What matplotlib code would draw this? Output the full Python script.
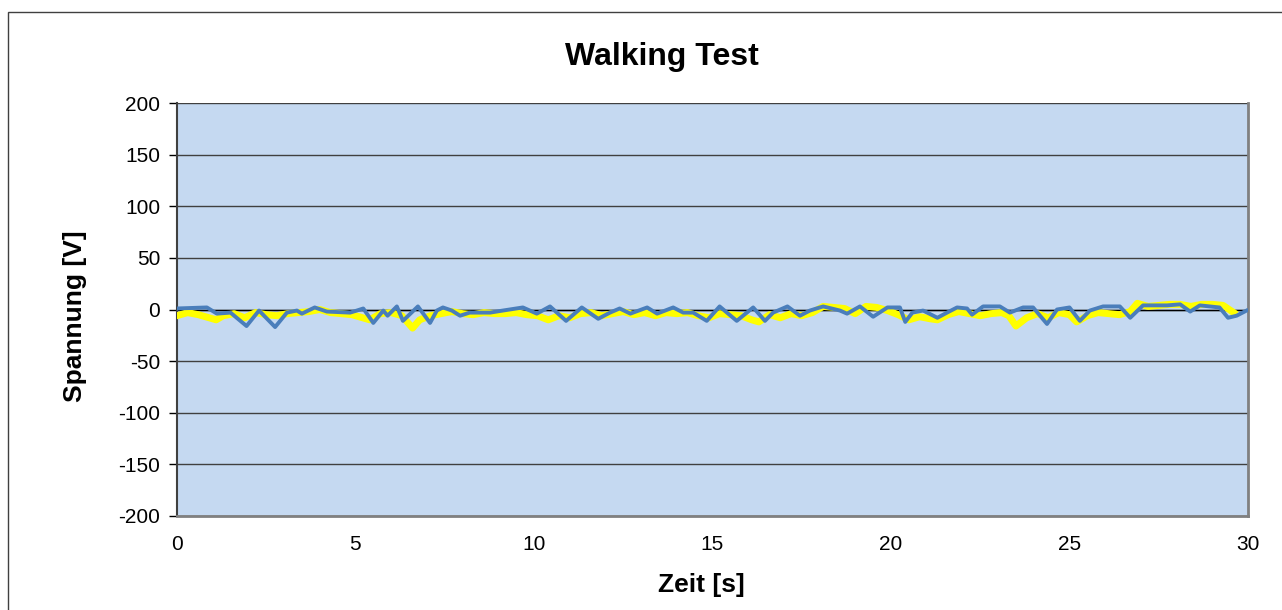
import matplotlib.pyplot as plt
from matplotlib.patches import Rectangle

plt.rcParams['font.family'] = ['Liberation Sans', 'DejaVu Sans']
plt.rcParams['axes.unicode_minus'] = False

zeit_gelb = [0, 0.3, 0.6, 0.9, 1.1, 1.3, 1.6, 1.9, 2.2, 2.5, 2.8, 3.1, 3.4, 3.7,
             4.0, 4.3, 4.6, 4.9, 5.2, 5.4, 5.7, 6.0, 6.3, 6.6, 6.8, 7.1, 7.4, 7.7,
             8.0, 8.3, 8.6, 8.9, 9.2, 9.5, 9.8, 10.1, 10.4, 10.7, 11.0, 11.3, 11.6,
             11.9, 12.2, 12.5, 12.8, 13.1, 13.4, 13.7, 14.0, 14.3, 14.6, 14.9, 15.2,
             15.5, 15.8, 16.1, 16.3, 16.6, 16.9, 17.2, 17.5, 17.8, 18.1, 18.4, 18.7,
             19.0, 19.3, 19.6, 19.9, 20.2, 20.5, 20.8, 21.1, 21.3, 21.6, 21.9, 22.2,
             22.5, 22.8, 23.1, 23.3, 23.5, 23.8, 24.1, 24.4, 24.7, 25.0, 25.2, 25.5,
             25.8, 26.1, 26.4, 26.7, 26.9, 27.2, 27.5, 27.8, 28.1, 28.4, 28.7, 29.0,
             29.3, 29.6]
spannung_gelb = [-6, -3, -5, -8, -10, -6, -4, -8, -3, -5, -6, -4, -3, -2,
                 0, -3, -4, -5, -8, -10, -4, -3, -6, -18, -10, -6, -4, -2,
                 -4, -5, -3, -4, -4, -3, -5, -6, -10, -6, -8, -4, -3,
                 -6, -4, -2, -5, -3, -6, -3, -4, -3, -6, -8, -4,
                 -5, -6, -10, -12, -5, -8, -4, -6, -3, 3, 2, 1,
                 -4, 3, 2, -1, -5, -10, -7, -9, -10, -5, -2, -4,
                 -6, -4, -3, -6, -16, -8, -4, -8, -3, -5, -12, -6,
                 -3, -4, -5, -2, 6, 3, 4, 5, 5, 3, 5, 5,
                 4, -3]

zeit_blau = [0, 0.84, 1.12, 1.5, 1.95, 2.3, 2.75, 3.08, 3.36, 3.5, 3.86, 4.2,
             4.85, 5.04, 5.22, 5.5, 5.78, 5.9, 6.16, 6.33, 6.75, 7.09, 7.28, 7.45,
             7.7, 7.93, 8.2, 8.77, 9.13, 9.69, 10.08, 10.45, 10.9, 11.34, 11.8,
             12.13, 12.4, 12.7, 13.17, 13.45, 13.9, 14.18, 14.46, 14.84, 15.2,
             15.68, 16.14, 16.47, 16.7, 17.1, 17.45, 17.73, 18.1, 18.57, 18.77,
             19.13, 19.5, 19.9, 20.25, 20.4, 20.6, 20.9, 21.3, 21.57, 21.85, 22.13,
             22.27, 22.58, 23.05, 23.33, 23.7, 23.98, 24.37, 24.65, 25.0, 25.29,
             25.57, 25.94, 26.41, 26.7, 27.06, 27.73, 28.1, 28.38, 28.65, 29.2,
             29.44, 29.68, 29.96]
spannung_blau = [1, 2, -4, -3, -16, -1, -17, -3, -1, -4, 2, -2,
                 -3, -1, 1, -13, -1, -6, 3, -11, 3, -13, -1, 2,
                 -1, -6, -3, -3, -1, 2, -4, 3, -11, 2, -9,
                 -3, 1, -4, 2, -4, 2, -3, -3, -11, 3,
                 -11, 2, -11, -3, 3, -6, -1, 3, -1, -4,
                 3, -7, 2, 2, -12, -3, -1, -8, -3, 2, 1,
                 -5, 3, 3, -3, 2, 2, -14, 0, 2, -11,
                 -1, 3, 3, -8, 4, 4, 5, -2, 4, 2,
                 -8, -6, -1]

fig = plt.figure(figsize=(12.82, 6.10), dpi=100)
fig.patches.append(Rectangle((8 / 1282, -0.05), 1.1, 1.05 - 12 / 610,
                             transform=fig.transFigure, fill=False,
                             edgecolor='#404040', linewidth=1))

ax = fig.add_axes([0.138, 0.1541, 0.8355, 0.677])
ax.set_facecolor('#C5D9F1')

ax.plot(zeit_gelb, spannung_gelb, color='#FFFF00', linewidth=5, zorder=3)
ax.plot(zeit_blau, spannung_blau, color='#4A7EBB', linewidth=2.8, zorder=4,
        solid_joinstyle='round')

ax.set_xlim(0, 30)
ax.set_ylim(-200, 200)
ax.set_xticks(range(0, 31, 5))
ax.set_yticks(range(-200, 201, 50))
ax.yaxis.grid(True, color='#404040', linewidth=1)
ax.axhline(0, color='black', linewidth=1, zorder=2)
ax.set_axisbelow(True)

ax.tick_params(axis='y', direction='out', length=6, width=1, color='black',
               labelsize=15, pad=6)
ax.tick_params(axis='x', length=0, labelsize=15, pad=14)

for side in ['bottom', 'right']:
    ax.spines[side].set_color('#808080')
    ax.spines[side].set_linewidth(2)
ax.spines['left'].set_color('#404040')
ax.spines['left'].set_linewidth(1.5)
ax.spines['top'].set_visible(False)

# Titel und Achsentitel wie im Excel-Diagramm positioniert
fig.text(0.5164, 1 - 65 / 610, 'Walking Test', fontsize=23, fontweight='bold',
         ha='center', va='baseline')
fig.text(0.5468, 1 - 592 / 610, 'Zeit [s]', fontsize=19, fontweight='bold',
         ha='center', va='baseline')
ax.set_ylabel('Spannung [V]', fontsize=19, fontweight='bold')
ax.yaxis.set_label_coords(-0.084, 0.484)

plt.savefig('out.png', dpi=100)
plt.close()
